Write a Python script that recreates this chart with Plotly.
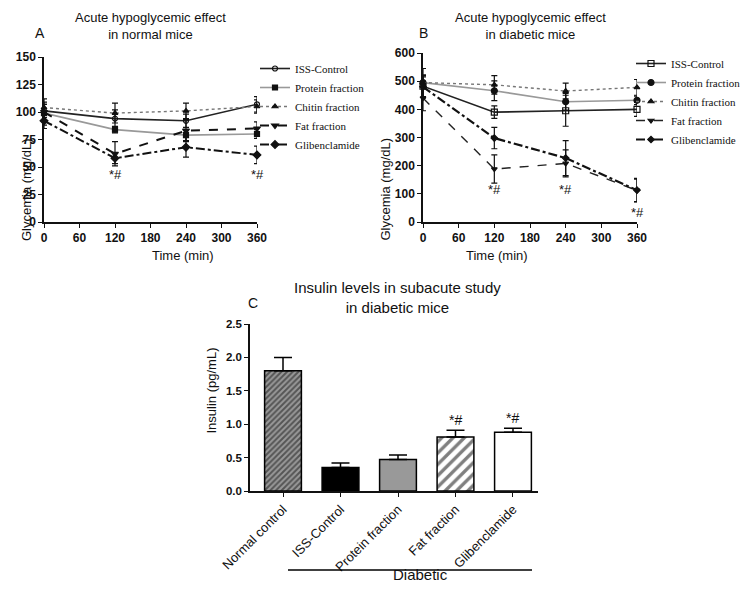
import plotly.graph_objects as go

# Page is rendered with an 8px body margin; all layout positions below are page pixels.
OFF = 8
W, H = 742, 587

# ---------------- data ----------------
times = [0, 120, 240, 360]
x_ticks = [0, 60, 120, 180, 240, 300, 360]
series_names = ["ISS-Control", "Protein fraction", "Chitin fraction", "Fat fraction", "Glibenclamide"]

# Panel A: normal mice (mg/dL)
a_iss = [101, 94, 92, 107]
a_iss_err = [6, 8, 6, 7]
a_prot = [99, 84, 79, 80]
a_prot_err = [8, 3, 5, 4]
a_chit = [104, 99, 101, 105]
a_chit_err = [5, 9, 7, 6]
a_fat = [100, 62, 83, 85]
a_fat_err = [12, 11, 10, 6]
a_glib = [92, 58, 68, 61]
a_glib_err = [7, 5, 9, 8]
a_yticks = [0, 25, 50, 75, 100, 125, 150]

# Panel B: diabetic mice (mg/dL)
b_iss = [482, 390, 395, 400]
b_iss_err = [40, 22, 55, 25]
b_prot = [495, 466, 427, 432]
b_prot_err = [20, 35, 30, 15]
b_chit = [495, 487, 465, 478]
b_chit_err = [50, 33, 28, 28]
b_fat = [440, 188, 208, 112]
b_fat_err = [45, 50, 48, 40]
b_glib = [480, 298, 227, 113]
b_glib_err = [40, 38, 62, 42]
b_yticks = [0, 100, 200, 300, 400, 500, 600]

# Panel C: insulin (pg/mL)
c_cats = ["Normal control", "ISS-Control", "Protein fraction", "Fat fraction", "Glibenclamide"]
c_vals = [1.80, 0.35, 0.47, 0.81, 0.88]
c_err = [0.20, 0.07, 0.07, 0.10, 0.06]
c_yticks = [0, 0.5, 1.0, 1.5, 2.0, 2.5]

a_sig_x = [120, 360]
a_sig_y = [43, 43]
b_sig_x = [120, 240, 360]
b_sig_y = [115, 115, 32]
c_sig_idx = [3, 4]

# ---------------- styles ----------------
NARROW = "Liberation Sans Narrow, Arial Narrow, Liberation Sans"
styles_a = [
    dict(color="#222", dash="solid", width=1.6, symbol="circle-open", msize=5),
    dict(color="#999", dash="solid", width=1.6, symbol="square", msize=5),
    dict(color="#777", dash="dot", width=1.4, symbol="triangle-up", msize=5),
    dict(color="#111", dash="dash", width=2.0, symbol="triangle-down", msize=6),
    dict(color="#111", dash="dashdot", width=2.0, symbol="diamond", msize=6),
]
styles_b = [
    dict(color="#222", dash="solid", width=1.6, symbol="square-open", msize=6),
    dict(color="#999", dash="solid", width=1.6, symbol="circle", msize=6),
    dict(color="#777", dash="dot", width=1.4, symbol="triangle-up", msize=5),
    dict(color="#222", dash="dash", width=1.4, symbol="triangle-down", msize=5),
    dict(color="#111", dash="dashdot", width=2.2, symbol="diamond", msize=5),
]

fig = go.Figure()

def add_line_panel(vals, errs, styles, xa, ya, legend):
    for name, v, e, st in zip(series_names, vals, errs, styles):
        fig.add_trace(go.Scatter(
            x=times, y=v, name=name, mode="lines+markers",
            line=dict(color=st["color"], dash=st["dash"], width=st["width"]),
            marker=dict(symbol=st["symbol"], size=st["msize"], color="#111",
                        line=dict(color="#111", width=1.2)),
            error_y=dict(type="data", array=e, color="#111", thickness=1.2, width=3),
            xaxis=xa, yaxis=ya, legend=legend, cliponaxis=False,
        ))

add_line_panel([a_iss, a_prot, a_chit, a_fat, a_glib],
               [a_iss_err, a_prot_err, a_chit_err, a_fat_err, a_glib_err], styles_a, "x", "y", "legend")
add_line_panel([b_iss, b_prot, b_chit, b_fat, b_glib],
               [b_iss_err, b_prot_err, b_chit_err, b_fat_err, b_glib_err], styles_b, "x2", "y2", "legend2")

# Panel C bars
bar_fill = ["#888", "#000", "#999", "#fff", "#fff"]
bar_pattern = [
    dict(shape="/", size=4, solidity=0.5, fgcolor="#111", bgcolor="#999"),
    dict(shape=""), dict(shape=""),
    dict(shape="/", size=8, solidity=0.42, fgcolor="#000", bgcolor="#fff"),
    dict(shape=""),
]
for i, (c, v, e) in enumerate(zip(c_cats, c_vals, c_err)):
    fig.add_trace(go.Bar(
        x=[c], y=[v], width=0.64, showlegend=False,
        marker=dict(color=bar_fill[i], pattern=bar_pattern[i], line=dict(color="#000", width=1.5)),
        error_y=dict(type="data", array=[e], arrayminus=[0], symmetric=False,
                     color="#000", thickness=1.5, width=9),
        xaxis="x3", yaxis="y3",
    ))

def px_x(p):
    return (p - OFF) / W

def px_y(p):
    return 1 - (p - OFF) / H

tickfont = dict(family=NARROW, size=12, color="#111", weight="bold")
ax_common = dict(showline=True, linecolor="#111", linewidth=1.5, ticks="outside",
                 ticklen=4, tickwidth=1.2, tickcolor="#111", showgrid=False,
                 zeroline=False)

legend_font = dict(family="Liberation Serif", size=11, color="#111")
fig.update_layout(
    width=W, height=H, margin=dict(l=0, r=0, t=0, b=0, autoexpand=False),
    paper_bgcolor="white", plot_bgcolor="white", barmode="overlay",
    xaxis=dict(domain=[px_x(44), px_x(257)], range=[0, 360], tickvals=x_ticks,
               anchor="y", tickfont=tickfont, **ax_common),
    yaxis=dict(domain=[px_y(222), px_y(57)], range=[0, 150], tickvals=a_yticks,
               anchor="x", tickfont=tickfont, **ax_common),
    xaxis2=dict(domain=[px_x(423), px_x(637)], range=[0, 360], tickvals=x_ticks,
                anchor="y2", tickfont=tickfont, **ax_common),
    yaxis2=dict(domain=[px_y(222), px_y(53)], range=[0, 600], tickvals=b_yticks,
                anchor="x2", tickfont=tickfont, **ax_common),
    xaxis3=dict(domain=[px_x(250), px_x(538)], type="category", range=[-0.574, 4.435],
                tickangle=-45, anchor="y3",
                tickfont=dict(family="Liberation Sans", size=13, color="#111"), **ax_common),
    yaxis3=dict(domain=[px_y(491), px_y(324)], range=[0, 2.5], tickvals=c_yticks,
                tickformat=".1f", anchor="x3",
                tickfont=dict(family="Liberation Sans", size=11.5, color="#111", weight="bold"),
                **ax_common),
    legend=dict(x=px_x(255), y=px_y(54), xanchor="left", yanchor="top", bgcolor="rgba(0,0,0,0)",
                font=legend_font, itemwidth=30, tracegroupgap=0),
    legend2=dict(x=px_x(631), y=px_y(49), xanchor="left", yanchor="top", bgcolor="rgba(0,0,0,0)",
                 font=legend_font, itemwidth=30, tracegroupgap=0),
)

title_font = dict(family="Liberation Sans", size=13, color="#111")
ann = []
# Titles
ann.append(dict(text="Acute hypoglycemic effect<br>in normal mice", x=px_x(150), y=px_y(8),
                xref="paper", yref="paper", xanchor="center", yanchor="top", showarrow=False, font=title_font))
ann.append(dict(text="Acute hypoglycemic effect<br>in diabetic mice", x=px_x(530), y=px_y(8),
                xref="paper", yref="paper", xanchor="center", yanchor="top", showarrow=False, font=title_font))
ann.append(dict(text="Insulin levels in subacute study<br>in diabetic mice", x=px_x(397), y=px_y(277),
                xref="paper", yref="paper", xanchor="center", yanchor="top", showarrow=False,
                font=dict(family="Liberation Sans", size=15, color="#111")))
# Panel letters
for letter, xx, yy in [("A", 40, 33), ("B", 423, 33), ("C", 253, 303)]:
    ann.append(dict(text=letter, x=px_x(xx), y=px_y(yy), xref="paper", yref="paper",
                    xanchor="center", yanchor="middle", showarrow=False,
                    font=dict(family="Liberation Sans", size=14, color="#111")))
# Axis titles
ann.append(dict(text="Glycemia (mg/dL)", x=px_x(17), y=px_y(136), xref="paper", yref="paper",
                textangle=-90, showarrow=False, font=title_font))
ann.append(dict(text="Glycemia (mg/dL)", x=px_x(385), y=px_y(136), xref="paper", yref="paper",
                textangle=-90, showarrow=False, font=title_font))
ann.append(dict(text="Time (min)", x=px_x(150), y=px_y(255), xref="paper", yref="paper",
                showarrow=False, font=dict(family=NARROW, size=13, color="#111")))
ann.append(dict(text="Time (min)", x=px_x(530), y=px_y(255), xref="paper", yref="paper",
                showarrow=False, font=dict(family=NARROW, size=13, color="#111")))
ann.append(dict(text="Insulin (pg/mL)", x=px_x(201), y=px_y(391), xref="paper", yref="paper",
                textangle=-90, showarrow=False, font=dict(family=NARROW, size=13, color="#111")))
ann.append(dict(text="Diabetic", x=px_x(420), y=px_y(585), xref="paper", yref="paper",
                showarrow=False, font=dict(family="Liberation Sans", size=15, color="#111")))
# Significance markers
sig_font = dict(family="Liberation Sans", size=13, color="#111")
for xv, yv in zip(a_sig_x, a_sig_y):
    ann.append(dict(text="*#", x=xv, y=yv, xref="x", yref="y", showarrow=False, font=sig_font))
for xv, yv in zip(b_sig_x, b_sig_y):
    ann.append(dict(text="*#", x=xv, y=yv, xref="x2", yref="y2", showarrow=False, font=sig_font))
for i in c_sig_idx:
    ann.append(dict(text="*#", x=c_cats[i], y=c_vals[i] + c_err[i], xref="x3", yref="y3",
                    yshift=10, showarrow=False, font=dict(family="Liberation Sans", size=14, color="#111")))
fig.update_layout(annotations=ann)

fig.add_shape(type="line", xref="paper", yref="paper", x0=px_x(288), x1=px_x(532),
              y0=px_y(570), y1=px_y(570), line=dict(color="#000", width=1.5))

fig.write_html("out.html")
